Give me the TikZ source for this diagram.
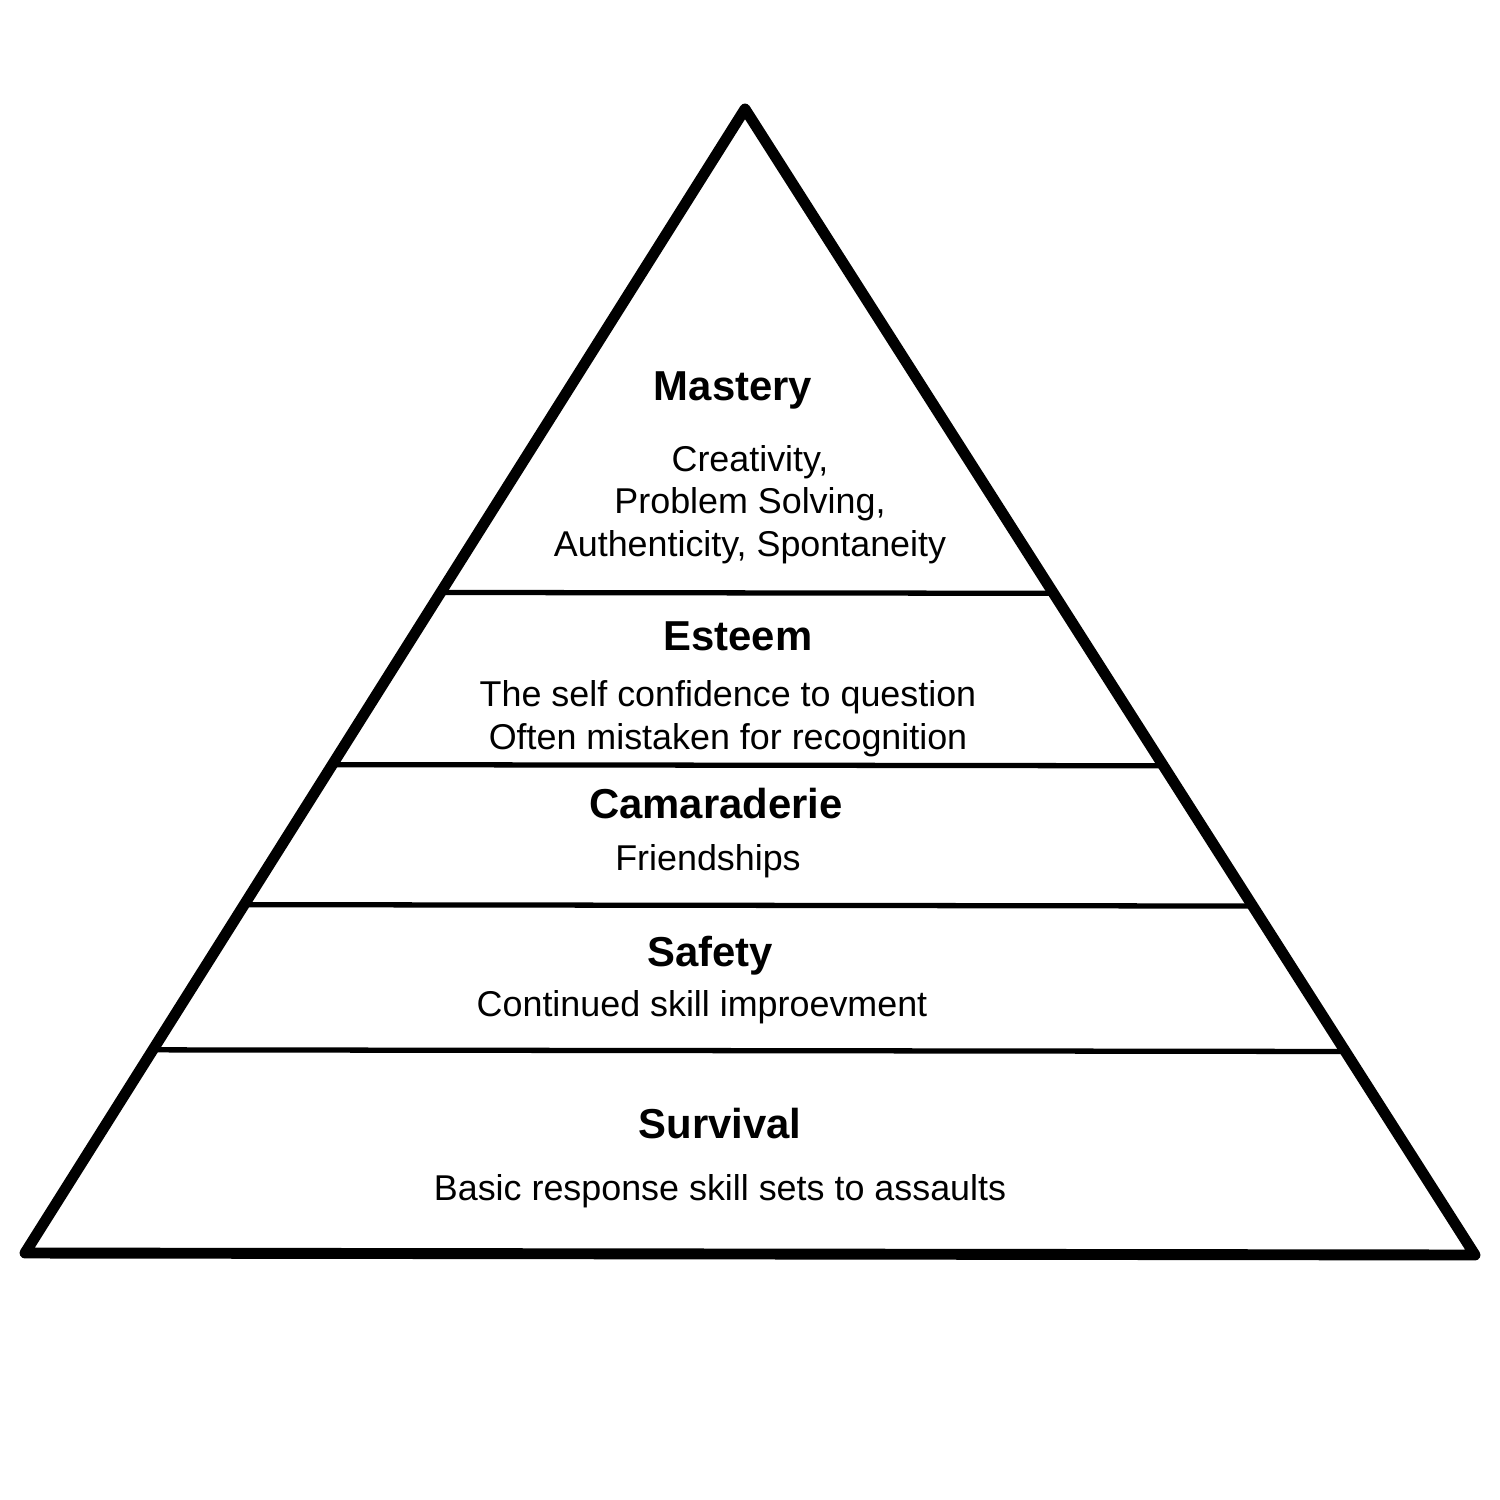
\documentclass[tikz,border=0pt]{standalone}
\usepackage{fontspec}
\setmainfont{Liberation Sans}
\usetikzlibrary{calc}

\begin{document}
\begin{tikzpicture}[
    x=0.01cm, y=-0.01cm,
    levelname/.style={font=\fontsize{11.9}{14}\selectfont\bfseries, anchor=base, inner sep=0pt},
    leveltext/.style={font=\fontsize{10.2}{11.95}\selectfont, align=center, anchor=base, inner sep=0pt},
    outline/.style={-, line width=3.1pt, line join=round},
    divider/.style={-, line width=1.5pt}
    ]
    \useasboundingbox (0,0) rectangle (1500,1500);

    %Corners
    \coordinate (apex) at (745,109);
    \coordinate (bl) at (25,1253);
    \coordinate (br) at (1475,1255);

    %Nodes
    \node[levelname] (mastery) at (733,400) {Mastery};
    \node[leveltext] (masterytext) at (750,556) {Creativity,\\Problem Solving,\\Authenticity, Spontaneity};

    \node[levelname] (esteem) at (738,650) {Esteem};
    \node[leveltext] (esteemtext) at (728,749) {The self confidence to question\\Often mistaken for recognition};

    \node[levelname] (camaraderie) at (716,818) {Camaraderie};
    \node[leveltext] (camaraderietext) at (708,870) {Friendships};

    \node[levelname] (safety) at (710,966) {Safety};
    \node[leveltext] (safetytext) at (702,1016) {Continued skill improevment};

    \node[levelname] (survival) at (720,1138) {Survival};
    \node[leveltext] (survivaltext) at (720,1200) {Basic response skill sets to assaults};

    %Lines
    \draw[outline] (apex) -- (br) -- (bl) -- cycle;

    \draw[divider] ($(apex)!0.4226!(bl)$) -- ($(apex)!0.4226!(br)$);
    \draw[divider] ($(apex)!0.5731!(bl)$) -- ($(apex)!0.5731!(br)$);
    \draw[divider] ($(apex)!0.6955!(bl)$) -- ($(apex)!0.6955!(br)$);
    \draw[divider] ($(apex)!0.8224!(bl)$) -- ($(apex)!0.8224!(br)$);

\end{tikzpicture}
\end{document}
